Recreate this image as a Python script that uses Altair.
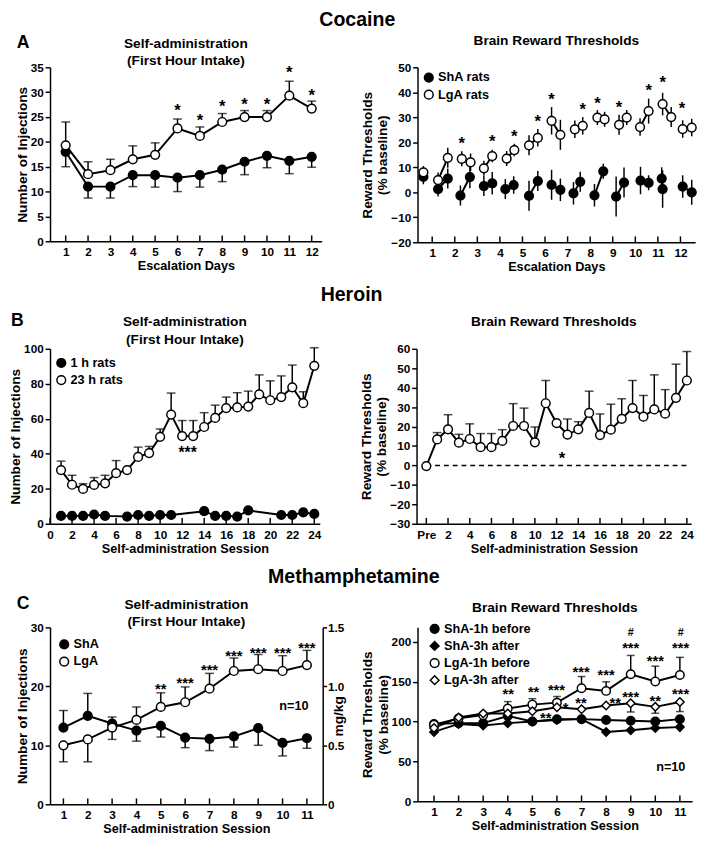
import altair as alt
import pandas as pd

FONT = "Liberation Sans"

# ---------------- Cocaine: self-administration ----------------
coc_days = list(range(1, 13))
coc_sa_lga = [19.3, 13.5, 14.3, 16.5, 17.4, 22.7, 21.2, 24.0, 25.0, 25.0, 29.3, 26.7]
coc_sa_lga_sem = [4.7, 2.5, 2.2, 2.7, 2.4, 1.9, 1.8, 1.7, 1.3, 1.3, 2.9, 1.5]
coc_sa_sha = [18.0, 11.0, 11.0, 13.3, 13.3, 12.8, 13.3, 14.4, 16.0, 17.2, 16.2, 17.0]
coc_sa_sha_sem = [3.0, 2.3, 2.3, 2.3, 2.4, 2.8, 2.4, 2.4, 2.6, 2.4, 2.6, 2.1]
coc_sa_star_x = [6, 7, 8, 9, 10, 11, 12]
coc_sa_star_y = [27.1, 25.2, 27.9, 28.4, 28.4, 34.8, 30.1]

# ---------------- Cocaine: brain reward thresholds ----------------
coc_brt_pair = [0, 1, 1, 2, 2, 3, 3, 4, 4, 5, 5, 6, 6, 7, 7, 8, 8, 9, 9, 10, 10, 11, 11, 12, 12]
coc_brt_lga_x = [0.61, 1.26, 1.69, 2.31, 2.70, 3.29, 3.66, 4.30, 4.64, 5.29, 5.68, 6.29, 6.68,
                 7.32, 7.67, 8.32, 8.64, 9.28, 9.62, 10.21, 10.59, 11.21, 11.59, 12.10, 12.50]
coc_brt_lga = [8.0, 4.9, 13.8, 13.4, 12.0, 9.6, 14.5, 13.5, 16.9, 18.8, 21.8, 28.6, 23.0,
               25.2, 26.6, 29.9, 29.2, 27.0, 29.9, 26.1, 32.5, 35.3, 30.1, 25.3, 25.9]
coc_brt_lga_sem = [2.5, 3.0, 4.0, 3.0, 3.5, 3.0, 2.5, 3.0, 2.5, 4.0, 3.5, 5.5, 6.0,
                   3.5, 3.5, 3.0, 3.0, 4.0, 3.0, 3.5, 5.0, 4.5, 4.0, 3.5, 3.5]
coc_brt_sha_x = [0.61, 1.26, 1.69, 2.25, 2.67, 3.29, 3.66, 4.24, 4.61, 5.29, 5.68, 6.29, 6.68,
                 7.26, 7.56, 8.19, 8.58, 9.15, 9.50, 10.23, 10.59, 11.17, 11.21, 12.10, 12.50]
coc_brt_sha = [6.2, 1.3, 5.5, -1.3, 6.1, 2.5, 3.6, 1.3, 2.9, -1.4, 4.5, 3.0, 1.0,
               -0.4, 4.2, -1.2, 8.4, -1.7, 3.9, 4.7, 3.8, 5.5, 1.3, 2.3, 0.0]
coc_brt_sha_sem = [3.0, 3.0, 4.0, 4.0, 4.5, 4.0, 4.5, 4.0, 3.5, 6.0, 4.0, 6.0, 4.5,
                   4.5, 4.0, 4.5, 3.0, 8.0, 6.0, 5.5, 3.0, 4.5, 7.5, 4.5, 5.0]
coc_brt_star_x = [2.31, 3.66, 4.64, 5.68, 6.29, 7.67, 8.32, 9.28, 10.59, 11.21, 12.07]
coc_brt_star_y = [21.2, 22.0, 24.0, 30.0, 39.0, 35.0, 37.4, 35.7, 42.6, 45.5, 35.4]

# ---------------- Heroin: self-administration ----------------
her_sess = list(range(1, 25))
her_sa_23h = [30.7, 22.3, 19.9, 22.2, 23.1, 28.9, 30.7, 38.2, 40.4, 49.7, 62.4, 50.1,
              50.1, 55.3, 60.5, 66.1, 66.5, 67.0, 73.9, 70.6, 72.4, 78.0, 68.9, 90.3]
her_sa_23h_sem = [5.1, 5.4, 3.0, 4.2, 4.6, 7.2, 0.0, 5.6, 3.8, 4.5, 12.3, 8.9,
                  8.9, 8.2, 7.3, 6.3, 8.4, 8.8, 11.2, 11.1, 12.1, 12.7, 6.5, 10.3]
her_sa_1h_sess = [1, 2, 3, 4, 5, 7, 8, 9, 10, 11, 14, 15, 16, 17, 18, 21, 22, 23, 24]
her_sa_1h = [4.5, 4.5, 4.5, 5.3, 4.5, 4.1, 5.0, 4.5, 5.0, 5.0, 7.2, 4.5, 4.5, 4.1, 7.6, 5.0, 5.0, 6.5, 5.6]
her_sa_star_x = [12.5]
her_sa_star_y = [43.0]

# ---------------- Heroin: brain reward thresholds ----------------
her_brt_sess = list(range(0, 25))
her_brt = [-0.3, 13.4, 18.6, 11.7, 13.6, 9.4, 9.4, 12.6, 20.3, 20.3, 11.9, 32.0, 21.8,
           15.9, 18.6, 27.0, 15.6, 18.4, 24.0, 29.5, 25.1, 28.8, 26.6, 34.8, 43.7]
her_brt_sem = [0.0, 3.5, 7.5, 4.3, 7.8, 7.0, 7.0, 5.8, 11.5, 9.2, 7.9, 11.7, 0.0,
               8.0, 3.9, 11.2, 10.9, 13.1, 10.3, 14.2, 10.9, 17.8, 12.4, 17.3, 14.9]
her_brt_star_x = [12.5]
her_brt_star_y = [6.0]

# ---------------- Methamphetamine: self-administration ----------------
meth_sess = list(range(1, 12))
meth_sa_lga = [10.0, 11.0, 13.0, 14.3, 16.5, 17.3, 19.6, 22.6, 22.9, 22.6, 23.6]
meth_sa_lga_sem = [2.8, 3.8, 2.0, 2.2, 2.4, 2.6, 2.6, 2.2, 2.5, 2.6, 2.5]
meth_sa_sha = [13.0, 15.0, 13.7, 12.5, 13.3, 11.3, 11.1, 11.5, 12.9, 10.4, 11.2]
meth_sa_sha_sem = [2.9, 3.8, 1.1, 1.8, 1.9, 1.7, 2.0, 1.8, 2.9, 2.2, 1.7]
meth_sa_star_x = [5, 6, 7, 8, 9, 10, 11]
meth_sa_star_y = [20.4, 21.3, 23.5, 25.9, 26.4, 26.4, 27.3]
meth_sa_star_t = ["**", "***", "***", "***", "***", "***", "***"]
meth_mgkg_ticks = [0, 0.5, 1.0, 1.5]

# ---------------- Methamphetamine: brain reward thresholds ----------------
meth_brt_sha_before = [97, 98, 98, 107, 100, 103, 103, 102, 101, 100, 103]
meth_brt_sha_after = [87, 97, 95, 98, 100, 102, 103, 87, 89, 92, 93]
meth_brt_lga_before = [96, 104, 108, 116.3, 121.2, 123.7, 141.7, 138.4, 159.2, 150.2, 158.4]
meth_brt_lga_before_sem = [0, 0, 0, 8.7, 7.4, 7.7, 14.7, 11.4, 23.6, 19.2, 22.0]
meth_brt_lga_after = [92, 105, 110, 110, 113, 118, 115.5, 120, 123, 118.4, 124.5]
meth_brt_lga_after_sem = [0, 0, 0, 0, 0, 0, 0, 0, 11, 8, 12]
meth_brt_star_x = [4.02, 5.05, 5.98, 6.98, 8.0, 9.0, 10.0, 11.03,
                   5.54, 6.35, 6.98, 8.37, 9.0, 10.0, 11.03]
meth_brt_star_y = [140, 143, 145, 168.6, 164.5, 198, 182.4, 198,
                   110, 123, 128.6, 128.6, 136.8, 131.9, 140.8]
meth_brt_star_t = ["**", "**", "***", "***", "***", "***", "***", "***",
                   "**", "*", "**", "**", "***", "**", "***"]
meth_brt_hash_x = [9.0, 11.03]
meth_brt_hash_y = [211, 211]


# ================= helpers =================
def enc_x(xs, xa):
    return alt.X("x:Q", scale=xs, axis=xa)


def enc_y(ys, ya):
    return alt.Y("y:Q", scale=ys, axis=ya)


def err_data(x, vals, sems, ups):
    rows, caps_ = [], []
    for xi, v, e, u in zip(x, vals, sems, ups):
        if e <= 0:
            continue
        if u:
            rows.append((xi, v, v + e)); caps_.append((xi, v + e))
        else:
            rows.append((xi, v - e, v)); caps_.append((xi, v - e))
    return (pd.DataFrame(rows, columns=["x", "y", "y2"]),
            pd.DataFrame(caps_, columns=["x", "y"]))


def rules(df, xs, xa, ys, ya):
    return alt.Chart(df).mark_rule(color="black", strokeWidth=1.5).encode(
        enc_x(xs, xa), enc_y(ys, ya), y2="y2:Q")


def caps(df, xs, xa, ys, ya, size=9):
    return alt.Chart(df).mark_tick(color="black", orient="horizontal", size=size,
                                   thickness=1.5).encode(enc_x(xs, xa), enc_y(ys, ya))


def lines(df, xs, xa, ys, ya, group="s"):
    return alt.Chart(df).mark_line(color="black", strokeWidth=2).encode(
        enc_x(xs, xa), enc_y(ys, ya), detail=f"{group}:N", order="x:Q")


def points(df, xs, xa, ys, ya, domain, fills, legend, shapes=None, size=80):
    enc = dict(
        fill=alt.Fill("s:N", scale=alt.Scale(domain=domain, range=fills), legend=legend),
        stroke=alt.Stroke("s:N", scale=alt.Scale(domain=domain, range=["black"] * len(domain)), legend=legend),
    )
    if shapes is not None:
        enc["shape"] = alt.Shape("s:N", scale=alt.Scale(domain=domain, range=shapes), legend=legend)
        mk = alt.Chart(df).mark_point(filled=True, strokeWidth=1.5, size=size, opacity=1)
    else:
        mk = alt.Chart(df).mark_point(filled=True, shape="circle", strokeWidth=1.5, size=size, opacity=1)
    return mk.encode(enc_x(xs, xa), enc_y(ys, ya), **enc)


def texts(df, xs, xa, ys, ya, size=17, dy=0):
    return alt.Chart(df).mark_text(font=FONT, fontSize=size, fontWeight="bold", color="black",
                                   baseline="middle", dy=dy).encode(
        enc_x(xs, xa), enc_y(ys, ya), text="t:N")


def inner_ticks(vals, xs, xa, H):
    return alt.Chart(pd.DataFrame({"x": vals})).mark_rule(color="black", strokeWidth=1.5).encode(
        enc_x(xs, xa), y=alt.value(H), y2=alt.value(H - 6))


def letter(ch, px, py):
    return alt.Chart(pd.DataFrame({"t": [ch]})).mark_text(
        font=FONT, fontSize=18, fontWeight="bold", color="black", align="left",
        baseline="middle").encode(x=alt.value(px), y=alt.value(py), text="t:N")


def legend(x, y):
    return alt.Legend(orient="none", legendX=x, legendY=y, title=None, labelFont=FONT,
                      labelFontSize=13, labelFontWeight="bold", labelColor="black",
                      symbolSize=80, symbolStrokeColor="black", symbolStrokeWidth=1.5,
                      rowPadding=2.5, padding=0, labelOffset=3)


def xaxis(title, values, expr=None):
    kw = dict(title=title, values=values, ticks=False, labelPadding=6, titlePadding=2,
              titleFontSize=13, labelFlush=False)
    if expr is not None:
        kw["labelExpr"] = expr
    return alt.Axis(**kw)


def yaxis(title, values):
    return alt.Axis(title=title, values=values, tickSize=5, labelPadding=2, titlePadding=1,
                    titleFontSize=14, titleLineHeight=16)


def sa_title():
    return alt.TitleParams(["Self-administration", "(First Hour Intake)"], fontSize=14,
                           lineHeight=18, offset=-35, anchor="middle", font=FONT)


def brt_title(offset):
    return alt.TitleParams("Brain Reward Thresholds", fontSize=14, offset=offset,
                           anchor="middle", font=FONT)


# ================= Cocaine left =================
W, H = 278, 178
xs = alt.Scale(domain=[0.3, 12.45], nice=False, zero=False)
xa = xaxis("Escalation Days", coc_days)
ys = alt.Scale(domain=[0, 35], nice=False)
ya = yaxis("Number of Injections", [0, 5, 10, 15, 20, 25, 30, 35])
d_l = pd.DataFrame({"x": coc_days, "y": coc_sa_lga, "s": "LgA"})
d_s = pd.DataFrame({"x": coc_days, "y": coc_sa_sha, "s": "ShA"})
up_l = [a >= b for a, b in zip(coc_sa_lga, coc_sa_sha)]
r1, c1 = err_data(coc_days, coc_sa_lga, coc_sa_lga_sem, up_l)
r2, c2 = err_data(coc_days, coc_sa_sha, coc_sa_sha_sem, [not u for u in up_l])
er = pd.concat([r1, r2]); ec = pd.concat([c1, c2])
stars = pd.DataFrame({"x": coc_sa_star_x, "y": coc_sa_star_y, "t": "*"})
coc_left = alt.layer(
    rules(er, xs, xa, ys, ya), caps(ec, xs, xa, ys, ya),
    lines(pd.concat([d_l, d_s]), xs, xa, ys, ya),
    points(pd.concat([d_s, d_l]), xs, xa, ys, ya, ["ShA", "LgA"], ["black", "white"], None),
    texts(stars, xs, xa, ys, ya, dy=5),
    inner_ticks(coc_days, xs, xa, H),
    letter("A", -34, -25),
).properties(width=W, height=H, title=sa_title())

# ================= Cocaine right =================
W2, H2 = 284, 179
xs2 = alt.Scale(domain=[0.35, 12.65], nice=False, zero=False)
xa2 = xaxis("Escalation Days", coc_days)
ys2 = alt.Scale(domain=[-20, 50], nice=False)
ya2 = yaxis(["Reward Thresholds", "(% baseline)"], [-20, -10, 0, 10, 20, 30, 40, 50])
bl = pd.DataFrame({"x": coc_brt_lga_x, "y": coc_brt_lga, "s": "LgA rats", "g": [f"L{p}" for p in coc_brt_pair]})
bs = pd.DataFrame({"x": coc_brt_sha_x, "y": coc_brt_sha, "s": "ShA rats", "g": [f"S{p}" for p in coc_brt_pair]})
erb = pd.DataFrame({
    "x": coc_brt_lga_x + coc_brt_sha_x,
    "y": [v - e for v, e in zip(coc_brt_lga, coc_brt_lga_sem)] + [v - e for v, e in zip(coc_brt_sha, coc_brt_sha_sem)],
    "y2": [v + e for v, e in zip(coc_brt_lga, coc_brt_lga_sem)] + [v + e for v, e in zip(coc_brt_sha, coc_brt_sha_sem)],
})
stars2 = pd.DataFrame({"x": coc_brt_star_x, "y": coc_brt_star_y, "t": "*"})
coc_right = alt.layer(
    rules(erb, xs2, xa2, ys2, ya2),
    lines(pd.concat([bl, bs]), xs2, xa2, ys2, ya2, group="g"),
    points(pd.concat([bs, bl]), xs2, xa2, ys2, ya2, ["ShA rats", "LgA rats"], ["black", "white"], legend(5, 4)),
    texts(stars2, xs2, xa2, ys2, ya2, dy=5),
    inner_ticks(coc_days, xs2, xa2, H2),
).properties(width=W2, height=H2, title=brt_title(14))

# ================= Heroin left =================
W3, H3 = 276, 179
xs3 = alt.Scale(domain=[0, 24.5], nice=False, zero=False)
her_ticks = list(range(0, 25, 2))
xa3 = xaxis("Self-administration Session", her_ticks)
ys3 = alt.Scale(domain=[0, 100], nice=False)
ya3 = yaxis("Number of Injections", [0, 20, 40, 60, 80, 100])
h23 = pd.DataFrame({"x": her_sess, "y": her_sa_23h, "s": "23 h rats"})
h1 = pd.DataFrame({"x": her_sa_1h_sess, "y": her_sa_1h, "s": "1 h rats"})
r3, c3 = err_data(her_sess, her_sa_23h, her_sa_23h_sem, [True] * 24)
stars3 = pd.DataFrame({"x": her_sa_star_x, "y": her_sa_star_y, "t": "***"})
her_left = alt.layer(
    rules(r3, xs3, xa3, ys3, ya3), caps(c3, xs3, xa3, ys3, ya3),
    lines(pd.concat([h23, h1]), xs3, xa3, ys3, ya3),
    points(pd.concat([h1, h23]), xs3, xa3, ys3, ya3, ["1 h rats", "23 h rats"], ["black", "white"], legend(5, 8)),
    texts(stars3, xs3, xa3, ys3, ya3, size=16, dy=5),
    inner_ticks(her_ticks, xs3, xa3, H3),
    letter("B", -40, -28),
).properties(width=W3, height=H3, title=sa_title())

# ================= Heroin right =================
W4, H4 = 281, 179
xs4 = alt.Scale(domain=[-0.9, 24.4], nice=False, zero=False)
xa4 = xaxis("Self-administration Session", her_ticks, "datum.value == 0 ? 'Pre' : datum.label")
ys4 = alt.Scale(domain=[-30, 60], nice=False)
ya4 = yaxis(["Reward Thresholds", "(% baseline)"], list(range(-30, 61, 10)))
hb = pd.DataFrame({"x": her_brt_sess, "y": her_brt, "s": "brt"})
r4, c4 = err_data(her_brt_sess, her_brt, her_brt_sem, [True] * 25)
stars4 = pd.DataFrame({"x": her_brt_star_x, "y": her_brt_star_y, "t": "*"})
zero_line = alt.Chart(pd.DataFrame({"x": [0], "x2": [24.3], "y": [0]})).mark_rule(
    color="black", strokeWidth=1.5, strokeDash=[5, 4]).encode(enc_x(xs4, xa4), x2="x2:Q", y=enc_y(ys4, ya4))
her_right = alt.layer(
    zero_line,
    rules(r4, xs4, xa4, ys4, ya4), caps(c4, xs4, xa4, ys4, ya4),
    lines(hb, xs4, xa4, ys4, ya4),
    points(hb, xs4, xa4, ys4, ya4, ["brt"], ["white"], None),
    texts(stars4, xs4, xa4, ys4, ya4, dy=5),
    inner_ticks(her_ticks, xs4, xa4, H4),
).properties(width=W4, height=H4, title=brt_title(14))

# ================= Meth left =================
W5, H5 = 279, 181
xs5 = alt.Scale(domain=[0.45, 11.65], nice=False, zero=False)
xa5 = xaxis("Self-administration Session", meth_sess)
ys5 = alt.Scale(domain=[0, 30], nice=False)
ya5 = yaxis("Number of Injections", [0, 10, 20, 30])
ml = pd.DataFrame({"x": meth_sess, "y": meth_sa_lga, "s": "LgA"})
ms = pd.DataFrame({"x": meth_sess, "y": meth_sa_sha, "s": "ShA"})
up5 = [a > b for a, b in zip(meth_sa_lga, meth_sa_sha)]
r5a, c5a = err_data(meth_sess, meth_sa_lga, meth_sa_lga_sem, up5)
r5b, c5b = err_data(meth_sess, meth_sa_sha, meth_sa_sha_sem, [not u for u in up5])
stars5 = pd.DataFrame({"x": meth_sa_star_x, "y": meth_sa_star_y, "t": meth_sa_star_t})
n5 = pd.DataFrame({"x": [10.47], "y": [16.6], "t": ["n=10"]})
main5 = alt.layer(
    rules(pd.concat([r5a, r5b]), xs5, xa5, ys5, ya5), caps(pd.concat([c5a, c5b]), xs5, xa5, ys5, ya5),
    lines(pd.concat([ml, ms]), xs5, xa5, ys5, ya5),
    points(pd.concat([ms, ml]), xs5, xa5, ys5, ya5, ["ShA", "LgA"], ["black", "white"], legend(8, 11)),
    texts(stars5, xs5, xa5, ys5, ya5, size=15, dy=5),
    texts(n5, xs5, xa5, ys5, ya5, size=13),
    inner_ticks(meth_sess, xs5, xa5, H5),
    letter("C", -34, -24),
)
mg = alt.Chart(pd.DataFrame({"m": meth_mgkg_ticks})).mark_point(opacity=0).encode(
    x=alt.value(0),
    y=alt.Y("m:Q", scale=alt.Scale(domain=[0, 1.5], nice=False),
            axis=alt.Axis(orient="right", title="mg/kg", values=meth_mgkg_ticks, tickSize=4,
                          labelPadding=1, titlePadding=2, titleAngle=270, titleFontSize=14,
                          labelExpr="datum.value == 0 ? '0' : format(datum.value, '.1f')")))
meth_left = alt.layer(main5, mg).resolve_scale(y="independent").properties(
    width=W5, height=H5, title=sa_title())

# ================= Meth right =================
W6, H6 = 281, 178
xs6 = alt.Scale(domain=[0.33, 11.5], nice=False, zero=False)
xa6 = xaxis("Self-administration Session", meth_sess)
ys6 = alt.Scale(domain=[0, 218], nice=False)
ya6 = yaxis(["Reward Thresholds", "(% baseline)"], [0, 50, 100, 150, 200])
names6 = ["ShA-1h before", "ShA-3h after", "LgA-1h before", "LgA-3h after"]
series6 = [meth_brt_sha_before, meth_brt_sha_after, meth_brt_lga_before, meth_brt_lga_after]
d6 = pd.concat([pd.DataFrame({"x": meth_sess, "y": v, "s": n}) for n, v in zip(names6, series6)])
r6a, c6a = err_data(meth_sess, meth_brt_lga_before, meth_brt_lga_before_sem, [True] * 11)
r6b, c6b = err_data(meth_sess, meth_brt_lga_after, meth_brt_lga_after_sem, [False] * 11)
stars6 = pd.DataFrame({"x": meth_brt_star_x, "y": meth_brt_star_y, "t": meth_brt_star_t})
hash6 = pd.DataFrame({"x": meth_brt_hash_x, "y": meth_brt_hash_y, "t": "#"})
n6 = pd.DataFrame({"x": [10.63], "y": [42.9], "t": ["n=10"]})
meth_right = alt.layer(
    rules(pd.concat([r6a, r6b]), xs6, xa6, ys6, ya6), caps(pd.concat([c6a, c6b]), xs6, xa6, ys6, ya6, size=8),
    lines(d6, xs6, xa6, ys6, ya6),
    points(d6, xs6, xa6, ys6, ya6, names6, ["black", "black", "white", "white"], legend(11, -5),
           shapes=["circle", "diamond", "circle", "diamond"], size=75),
    texts(stars6, xs6, xa6, ys6, ya6, size=15, dy=5),
    texts(hash6, xs6, xa6, ys6, ya6, size=11),
    texts(n6, xs6, xa6, ys6, ya6, size=13),
    inner_ticks(meth_sess, xs6, xa6, H6),
).properties(width=W6, height=H6, title=brt_title(8))


def row(a, b, name, spacing, off):
    return alt.hconcat(a, b, spacing=spacing).properties(
        title=alt.TitleParams(name, fontSize=20, font=FONT, anchor="middle", offset=off)
    ).resolve_scale(x="independent", y="independent", fill="independent", shape="independent",
                    stroke="independent").resolve_legend(fill="independent", shape="independent",
                                                         stroke="independent")


chart = alt.vconcat(
    row(coc_left, coc_right, "Cocaine", 38, 4),
    row(her_left, her_right, "Heroin", 37, 7),
    row(meth_left, meth_right, "Methamphetamine", 13, 8),
    spacing=11,
).resolve_scale(x="independent", y="independent", fill="independent", shape="independent",
                stroke="independent").resolve_legend(fill="independent", shape="independent",
                                                     stroke="independent").properties(
    padding={"top": -8, "left": 0, "right": 0, "bottom": 0}
).configure_axis(
    domainColor="black", domainWidth=1.5, tickColor="black", tickWidth=1.5,
    labelFont=FONT, labelFontSize=12, labelFontWeight="bold", labelColor="black",
    titleFont=FONT, titleFontWeight="bold", titleColor="black", grid=False,
).configure_view(stroke="transparent").configure_title(
    font=FONT, fontWeight="bold", color="black"
)

chart.save("out.html", embed_options={"renderer": "svg", "actions": False})
